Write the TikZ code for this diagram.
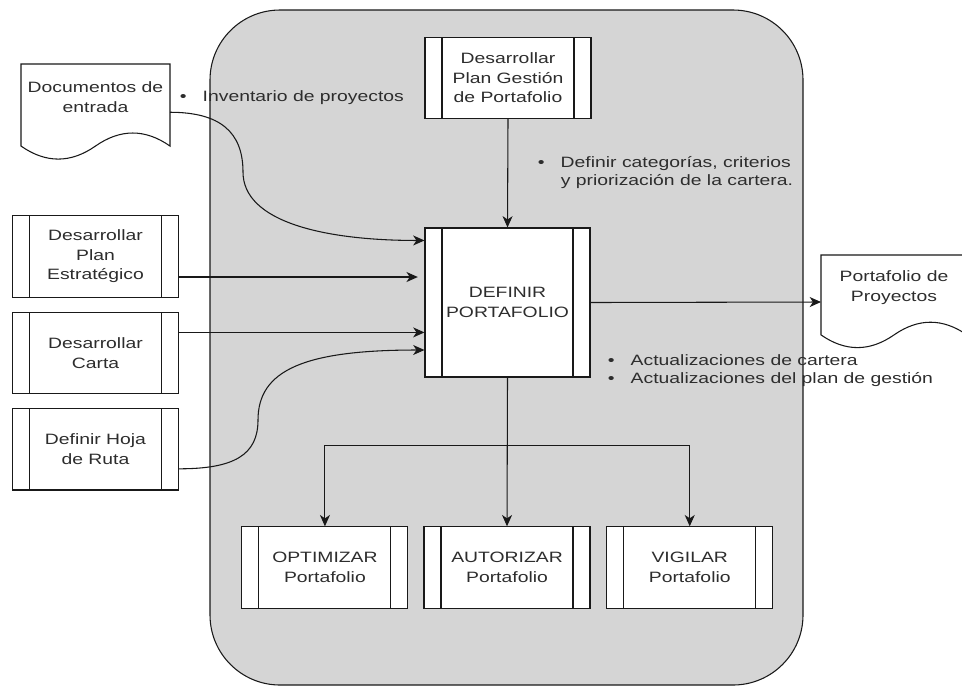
\documentclass[tikz,border=0pt]{standalone}
\usepackage{fontspec}
\setmainfont{Liberation Sans}[FakeStretch=1.29]
\usetikzlibrary{arrows.meta, calc, positioning}
\definecolor{mygray}{RGB}{213, 213, 213}
\definecolor{mytext}{RGB}{45, 45, 45}
\definecolor{myline}{RGB}{25, 25, 25}

% outline of a "document" shape laid over an empty node
\newcommand{\docoutline}[1]{%
	\begin{scope}[shift={(#1.north west)}, x={($(#1.north east)-(#1.north west)$)}, y={($(#1.south west)-(#1.north west)$)}]
		\draw (0,0) -- (1,0) -- (1,0.85)
			.. controls (0.8333,0.67) and (0.6667,0.67) .. (0.5,0.85)
			.. controls (0.3333,1.03) and (0.1667,1.03) .. (0,0.85) -- cycle;
	\end{scope}}

\begin{document}
\begin{tikzpicture}[x=0.75pt, y=-0.75pt, line width=0.8pt, draw=myline, >={Stealth[length=8.5pt, width=7.5pt, inset=2.5pt]},
	every node/.style={text=mytext, font=\fontsize{11.25pt}{14.6pt}\selectfont, align=center},
	subproc/.style={draw=myline, fill=white, inner sep=0pt, minimum width=124.5pt, minimum height=61pt,
		path picture={
			\draw ([xshift=12.75pt]path picture bounding box.north west) -- ([xshift=12.75pt]path picture bounding box.south west);
			\draw ([xshift=-12.75pt]path picture bounding box.north east) -- ([xshift=-12.75pt]path picture bounding box.south east);}},
	docbox/.style={inner sep=0pt, outer sep=0pt},
	note/.style={anchor=west, align=left, font=\fontsize{11.25pt}{13pt}\selectfont}]
	\useasboundingbox (0,0) rectangle (962,687);
	
	% gray process area
	\draw[fill=mygray, rounded corners=52.5pt] (210,10) rectangle (803,685);
	
	\node[subproc] (plan) at (508,78) {Desarrollar\\Plan Gestión\\de Portafolio};
	\node[subproc, minimum width=123.75pt, minimum height=111.75pt] (def) at (507.5,302.5) {DEFINIR\\PORTAFOLIO};
	
	\node[subproc] (es) at (95.5,256.5) {Desarrollar\\Plan\\Estratégico};
	\node[subproc, below=10.5pt of es] (carta) {Desarrollar\\Carta};
	\node[subproc, below=10.5pt of carta] (hoja) {Definir Hoja\\de Ruta};
	
	\node[subproc] (aut) at (507,567.5) {AUTORIZAR\\Portafolio};
	\node[subproc, left=11.25pt of aut] (opt) {OPTIMIZAR\\Portafolio};
	\node[subproc, right=11.75pt of aut] (vig) {VIGILAR\\Portafolio};
	
	\node[docbox, minimum width=111.75pt, minimum height=72.4pt] (docin) at (95.5,112.25) {};
	\node (docinlbl) at (95.5,97) {Documentos de\\entrada};
	\node[docbox, minimum width=109.5pt, minimum height=70.5pt] (port) at (894,302) {};
	\node (portlbl) at (894,287.5) {Portafolio de\\Proyectos};
	\docoutline{docin}
	\docoutline{port}
	
	\node[note] (inv) at (175,98) {\begin{tabular}{@{}l@{\hspace{12pt}}l@{}}\textbullet & Inventario de proyectos\end{tabular}};
	\node[note] (cat) at (533,173) {\begin{tabular}{@{}l@{\hspace{12pt}}l@{}}\textbullet & Definir categorías, criterios\\ & y priorización de la cartera.\end{tabular}};
	\node[note] (act) at (603,371) {\begin{tabular}{@{}l@{\hspace{12pt}}l@{}}\textbullet & Actualizaciones de cartera\\ \textbullet & Actualizaciones del plan de gestión\end{tabular}};
	
	% inputs
	\draw[->] (docin.east) .. controls +(50,0) and +(0,-40) .. (243,172)
		.. controls +(0,50) and +(-100,0) .. ($(def.north west)+(0,13)$);
	\draw[->, shorten >=5pt] ($(es.east)+(0,20.5)$) coordinate (p1) -- (p1 -| def.west);
	\draw[->] ($(carta.east)+(0,-20.5)$) coordinate (p2) -- (p2 -| def.west);
	\draw[->] ($(hoja.east)+(0,19.5)$) .. controls +(55,0) and +(0,35) .. (258,420)
		.. controls +(0,-50) and +(-120,0) .. ($(def.west)+(0,47.5)$);
	\draw[->] (plan.south) -- (def.north);
	
	% outputs
	\draw[->] (def.east) -- (port.west);
	\coordinate (split) at ($(def.south)+(0,68)$);
	\draw[->] (def.south) -- (aut.north);
	\draw[->] (split) -| (opt.north);
	\draw[->] (split) -| (vig.north);
\end{tikzpicture}
\end{document}
